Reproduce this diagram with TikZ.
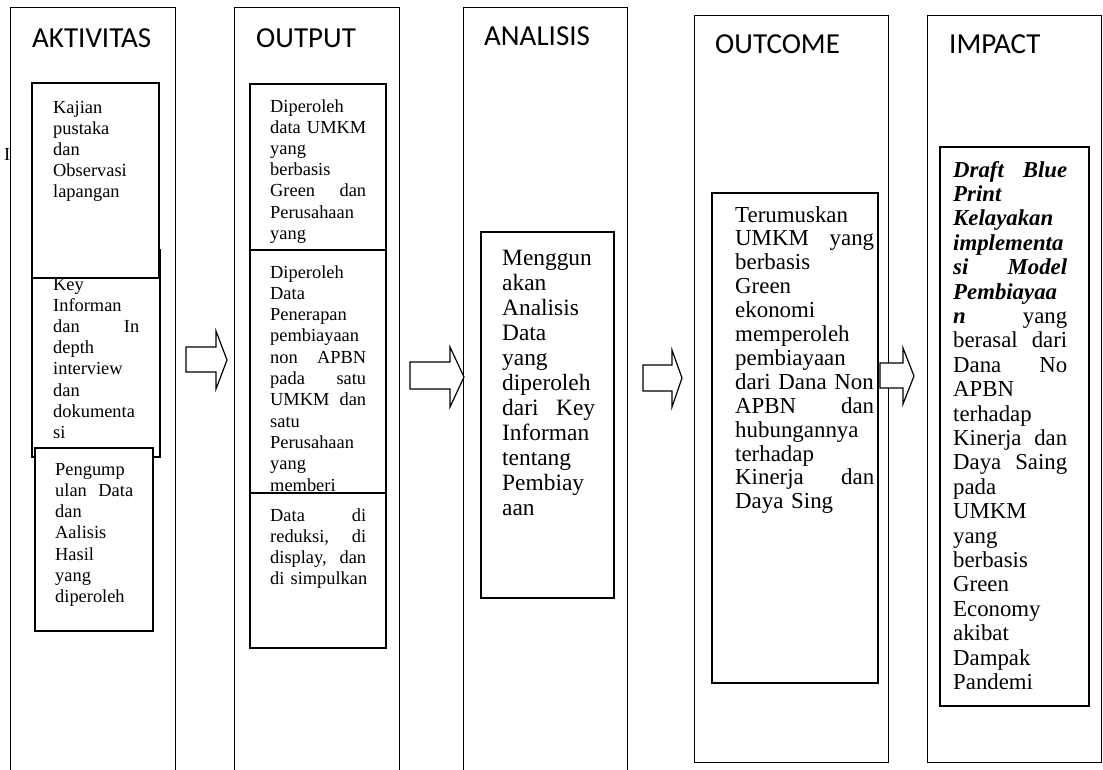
\documentclass[tikz,border=0pt]{standalone}
\usepackage{fontspec}
\setmainfont{Liberation Serif}
\newfontfamily\headfont{Carlito}
\hyphenpenalty=10000
\exhyphenpenalty=10000
\tikzset{
  col/.style={draw=black,line width=0.9pt,fill=white},
  inbox/.style={draw=black,line width=1.4pt,fill=white},
  head/.style={font=\headfont\fontsize{29}{30}\selectfont,anchor=base west,inner sep=0pt},
  txt/.style={anchor=base west,inner sep=0pt,align=left,text width=#1},
  smalltxt/.style={txt=#1,font=\fontsize{18.4}{21.2}\selectfont},
  bigtxt/.style={txt=#1,font=\fontsize{23.4}{25}\selectfont},
  blockarr/.style={draw=black,line width=1.2pt,fill=white,line join=miter},
}
\newcommand{\bi}[1]{\textbf{\textit{#1}}}

\begin{document}
\begin{tikzpicture}[x=1pt,y=-1pt]
  \useasboundingbox (0,0) rectangle (1103,769);
  \node[anchor=base west,inner sep=0pt,font=\fontsize{18.4}{21}\selectfont] (stray) at (4,160) {I};

  % columns
  \draw[col] (10,7) rectangle (175,776);
  \draw[col] (234,7) rectangle (399,776);
  \draw[col] (463,7) rectangle (627,776);
  \draw[col] (694,15) rectangle (888,762);
  \draw[col] (927,15) rectangle (1101,762);

  \node[head] (hakt) at (32,47) {AKTIVITAS};
  \node[head] (hout) at (256,47) {OUTPUT};
  \node[head] (hana) at (484,45) {ANALISIS};
  \node[head] (hoc) at (715,53) {OUTCOME};
  \node[head] (himp) at (949,53) {IMPACT};

  % aktivitas
  \draw[inbox] (32,250) rectangle (160,457);
  \node[smalltxt=86pt] (akt2) at (53,290)
    {Key\\Informan\\dan\hfill In\\depth\\interview\\dan\\dokumenta\\si};
  \draw[inbox] (32,83) rectangle (159,278);
  \node[smalltxt=86pt] (akt1) at (53,113)
    {Kajian\\pustaka\\dan\\Observasi\\lapangan};
  \draw[inbox] (35,448) rectangle (153,631);
  \node[smalltxt=78pt,font=\fontsize{18.4}{21.3}\selectfont] (akt3) at (55,475)
    {Pengump\\ulan\hfill Data\\dan\\Aalisis\\Hasil\\yang\\diperoleh};

  % output
  \draw[inbox] (250,84) rectangle (386,250);
  \node[smalltxt=96pt] (out1) at (270,112)
    {Diperoleh\\\mbox{data UMKM}\\yang\\berbasis\\Green\hfill dan\\Perusahaan\\yang};
  \draw[inbox] (250,250) rectangle (386,493);
  \node[smalltxt=96pt,font=\fontsize{18.4}{21.3}\selectfont] (out2) at (270,278)
    {Diperoleh\\Data\\Penerapan\\pembiayaan\\non\hfill APBN\\pada\hfill satu\\UMKM\hfill dan\\satu\\Perusahaan\\yang\\memberi};
  \draw[inbox] (250,493) rectangle (386,648);
  \node[smalltxt=96pt,font=\fontsize{18.4}{21.3}\selectfont] (out3) at (270,521)
    {Data\hfill di\\reduksi,\hfill di\\display,\hfill dan\\\mbox{di simpulkan}};

  % analisis
  \draw[inbox] (481,232) rectangle (614,598);
  \node[bigtxt=93pt] (ana1) at (502,265)
    {Menggun\\akan\\Analisis\\Data\\yang\\diperoleh\\dari\hfill Key\\Informan\\tentang\\Pembiay\\aan};

  % outcome
  \draw[inbox] (712,193) rectangle (878,683);
  \node[txt=139pt,font=\fontsize{22.9}{23.9}\selectfont] (oc1) at (735,222)
    {Terumuskan\\UMKM\hfill yang\\berbasis\\Green\\ekonomi\\memperoleh\\pembiayaan\\\mbox{dari Dana Non}\\APBN\hfill dan\\hubungannya\\terhadap\\Kinerja\hfill dan\\Daya Sing};

  % impact
  \draw[inbox] (940,147) rectangle (1089,706);
  \node[txt=114pt,font=\fontsize{22.8}{24.4}\selectfont] (imp1) at (953,177)
    {\bi{Draft\hfill Blue}\\\bi{Print}\\\bi{Kelayakan}\\\bi{implementa}\\\bi{si\hfill Model}\\\bi{Pembiayaa}\\\bi{n}\hfill yang\\berasal\hfill dari\\Dana\hfill No\\APBN\\terhadap\\Kinerja\hfill dan\\Daya\hfill Saing\\pada\\UMKM\\yang\\berbasis\\Green\\Economy\\akibat\\Dampak\\Pandemi};

  % block arrows
  \foreach \xa/\xb/\xt/\sa/\sb/\ha/\hb/\yt in {186/216/227/347/372/331/389/360,
      410/450/464/362/389/347/407/377, 643/672/682/365/391/350/407/378,
      880/903/914/363/388/348/404/376}{
    \draw[blockarr] (\xa,\sa) -- (\xb,\sa) -- (\xb,\ha) -- (\xt,\yt) -- (\xb,\hb)
      -- (\xb,\sb) -- (\xa,\sb) -- cycle;
  }
\end{tikzpicture}
\end{document}
